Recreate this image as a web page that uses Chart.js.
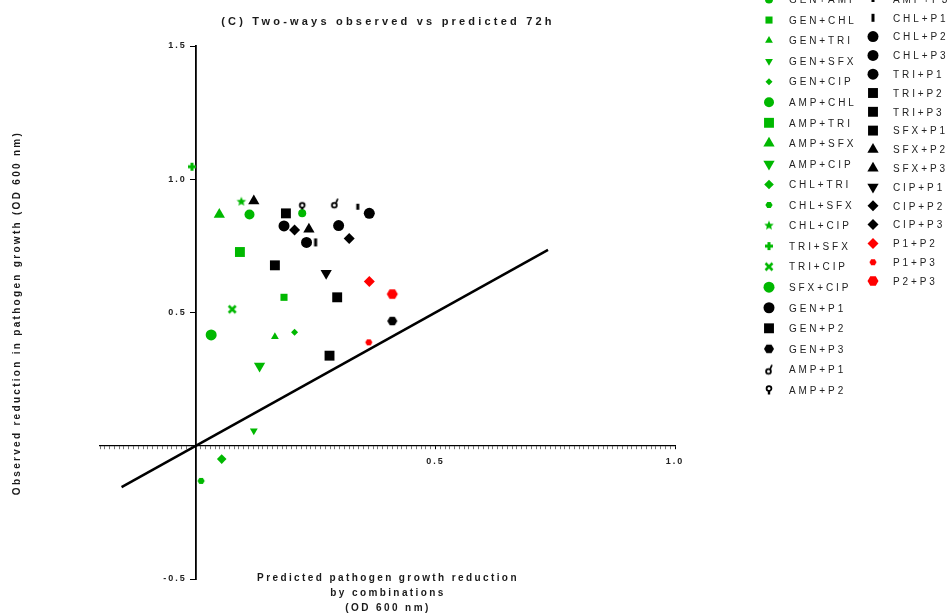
<!DOCTYPE html>
<html>
<head>
<meta charset="utf-8">
<script src="https://cdn.jsdelivr.net/npm/chart.js@4.4.1/dist/chart.umd.min.js"></script>
<style>
body { margin: 0; background: #fff; }
#wrap { width: 952px; height: 615px; position: relative; }
</style>
</head>
<body>
<div id="wrap"><canvas id="chart"></canvas></div>
<script>
// axis ticks
const xTickLabels = [0.5, 1.0];
const yTickLabels = [-0.5, 0.5, 1.0, 1.5];

// combinations (legend order)
const combos = [
  "GEN+AMP", "GEN+CHL", "GEN+TRI", "GEN+SFX", "GEN+CIP",
  "AMP+CHL", "AMP+TRI", "AMP+SFX", "AMP+CIP", "CHL+TRI",
  "CHL+SFX", "CHL+CIP", "TRI+SFX", "TRI+CIP", "SFX+CIP",
  "GEN+P1", "GEN+P2", "GEN+P3", "AMP+P1", "AMP+P2",
  "AMP+P3", "CHL+P1", "CHL+P2", "CHL+P3", "TRI+P1",
  "TRI+P2", "TRI+P3", "SFX+P1", "SFX+P2", "SFX+P3",
  "CIP+P1", "CIP+P2", "CIP+P3", "P1+P2", "P1+P3", "P2+P3"
];

// predicted reduction (x)
const predicted = [
  0.222, 0.184, 0.165, 0.121, 0.206,
  0.112, 0.092, 0.049, 0.133, 0.054,
  0.011, 0.095, -0.008, 0.076, 0.032,
  0.184, 0.279, 0.410, 0.290, 0.222,
  0.338, 0.250, 0.231, 0.298, 0.362,
  0.188, 0.165, 0.295, 0.121, 0.236,
  0.272, 0.206, 0.320, 0.362, 0.361, 0.410
];

// observed reduction (y)
const observed = [
  0.872, 0.557, 0.409, 0.056, 0.426,
  0.868, 0.727, 0.868, 0.299, -0.050,
  -0.132, 0.916, 1.047, 0.512, 0.416,
  0.825, 0.338, 0.468, 0.910, 0.897,
  0.897, 0.763, 0.763, 0.826, 0.872,
  0.872, 0.677, 0.557, 0.918, 0.812,
  0.647, 0.810, 0.778, 0.616, 0.388, 0.569
];

// additivity line y = x
const refLineX = [-0.155, 0.735];
const refLineY = [-0.155, 0.735];

const GREEN = "#00b800", BLACK = "#000000", RED = "#ff0000";

// marker look per combo: [colour, shape, size]
const looks = [
  [GREEN, "circle", 4], [GREEN, "rect", 5], [GREEN, "triangle", 4.5], [GREEN, "down", 4.5], [GREEN, "diamond", 3.5],
  [GREEN, "circle", 5], [GREEN, "rect", 7], [GREEN, "triangle", 6.5], [GREEN, "down", 6.5], [GREEN, "diamond", 4.8],
  [GREEN, "hex", 3.6], [GREEN, "star", 5], [GREEN, "plus", 4], [GREEN, "x", 4], [GREEN, "circle", 5.5],
  [BLACK, "circle", 5.5], [BLACK, "rect", 7], [BLACK, "hex", 5], [BLACK, "amp1", 5], [BLACK, "amp2", 5],
  [BLACK, "bar", 3], [BLACK, "bar", 4], [BLACK, "circle", 5.5], [BLACK, "circle", 5.5], [BLACK, "circle", 5.5],
  [BLACK, "rect", 7], [BLACK, "rect", 7], [BLACK, "rect", 7], [BLACK, "triangle", 6.5], [BLACK, "triangle", 6.5],
  [BLACK, "down", 6.5], [BLACK, "diamond", 5.5], [BLACK, "diamond", 5.5], [RED, "diamond", 5.5], [RED, "hex", 3.6], [RED, "hex", 5.5]
];

// small canvases for the shapes chart.js does not have
function makeMarker(shape, color, r) {
  const c = document.createElement("canvas");
  c.width = 16; c.height = 16;
  const g = c.getContext("2d");
  g.translate(8, 8);
  g.fillStyle = color; g.strokeStyle = color;
  if (shape === "hex") {
    g.beginPath();
    for (let k = 0; k < 6; k++) {
      const a = Math.PI / 3 * k;
      g.lineTo(Math.cos(a) * r, Math.sin(a) * r);
    }
    g.closePath(); g.fill();
  } else if (shape === "star") {
    g.beginPath();
    for (let k = 0; k < 10; k++) {
      const a = -Math.PI / 2 + Math.PI / 5 * k;
      const rr = k % 2 ? r * 0.45 : r;
      g.lineTo(Math.cos(a) * rr, Math.sin(a) * rr);
    }
    g.closePath(); g.fill();
  } else if (shape === "plus") {
    g.fillRect(-r, -1.5, 2 * r, 3);
    g.fillRect(-1.5, -r, 3, 2 * r);
  } else if (shape === "x") {
    g.lineWidth = 2.6;
    g.beginPath();
    g.moveTo(-r + 0.5, -r + 0.5); g.lineTo(r - 0.5, r - 0.5);
    g.moveTo(r - 0.5, -r + 0.5); g.lineTo(-r + 0.5, r - 0.5);
    g.stroke();
  } else if (shape === "bar") {
    g.fillRect(-1.5, -r, 3, 2 * r);
  } else if (shape === "amp1") {
    g.lineWidth = 1.8;
    g.beginPath(); g.arc(-0.5, 2, 2.4, 0, Math.PI * 2); g.stroke();
    g.beginPath(); g.moveTo(1, 0); g.lineTo(3, -4.5); g.stroke();
  } else if (shape === "amp2") {
    g.lineWidth = 1.8;
    g.beginPath(); g.arc(0, -1.5, 2.4, 0, Math.PI * 2); g.stroke();
    g.fillRect(-1.2, 1, 2.4, 3.5);
  }
  return c;
}

function styleFor(look) {
  const [color, shape, r] = look;
  if (shape === "circle") return { pointStyle: "circle", radius: r, rotation: 0 };
  if (shape === "rect") return { pointStyle: "rect", radius: r, rotation: 0 };
  if (shape === "triangle") return { pointStyle: "triangle", radius: r, rotation: 0 };
  if (shape === "down") return { pointStyle: "triangle", radius: r, rotation: 180 };
  if (shape === "diamond") return { pointStyle: "rectRot", radius: r, rotation: 0 };
  return { pointStyle: makeMarker(shape, color, r), radius: r, rotation: 0 };
}

const datasets = combos.map((name, i) => {
  const s = styleFor(looks[i]);
  return {
    label: name,
    data: [{ x: predicted[i], y: observed[i] }],
    pointStyle: s.pointStyle,
    pointRadius: s.radius,
    pointRotation: s.rotation,
    backgroundColor: looks[i][0],
    borderColor: looks[i][0],
    borderWidth: 0
  };
});

datasets.unshift({
  label: "y = x",
  type: "line",
  data: refLineX.map((x, i) => ({ x: x, y: refLineY[i] })),
  borderColor: "#000",
  borderWidth: 2.5,
  pointRadius: 0,
  showLine: true
});

// title, axis titles and the two-column legend
const textPlugin = {
  id: "texts",
  beforeDraw(chart) {
    chart.ctx.letterSpacing = "2px";
  },
  afterDraw(chart) {
    const ctx = chart.ctx;
    ctx.save();
    ctx.fillStyle = "#1a1a1a";
    ctx.textBaseline = "middle";

    ctx.textAlign = "center";
    ctx.font = 'bold 11px "Liberation Sans", Arial, sans-serif';
    ctx.letterSpacing = "3.2px";
    ctx.fillText("(C) Two-ways observed vs predicted 72h", 388, 22);

    ctx.font = 'bold 10px "Liberation Sans", Arial, sans-serif';
    ctx.letterSpacing = "2.4px";
    ctx.fillText("Predicted pathogen growth reduction", 388, 578);
    ctx.fillText("by combinations", 388, 593);
    ctx.fillText("(OD 600 nm)", 388, 608);

    ctx.save();
    ctx.translate(17, 313);
    ctx.rotate(-Math.PI / 2);
    ctx.letterSpacing = "2.3px";
    ctx.fillText("Observed reduction in pathogen growth (OD 600 nm)", 0, 0);
    ctx.restore();

    // legend
    ctx.textAlign = "left";
    ctx.font = '10px "Liberation Sans", Arial, sans-serif';
    ctx.letterSpacing = "2.9px";
    combos.forEach((name, i) => {
      const col2 = i >= 20;
      const j = col2 ? i - 20 : i;
      const mx = col2 ? 873 : 769;
      const my = col2 ? -1 + 18.8 * j : -0.5 + 20.55 * j;
      const s = styleFor(looks[i]);
      ctx.fillStyle = looks[i][0];
      ctx.strokeStyle = looks[i][0];
      Chart.helpers.drawPoint(ctx, { pointStyle: s.pointStyle, radius: s.radius, rotation: s.rotation, borderWidth: 0 }, mx, my);
      ctx.fillStyle = "#222";
      ctx.fillText(name, mx + 20, my + 1);
    });
    ctx.restore();
  }
};

const tickFont = { family: '"Liberation Sans", Arial, sans-serif', size: 9, weight: "bold" };

new Chart(document.getElementById("chart"), {
  type: "scatter",
  data: { datasets: datasets },
  plugins: [textPlugin],
  options: {
    responsive: true,
    maintainAspectRatio: false,
    animation: false,
    events: [],
    layout: { padding: { left: 100, right: 277, top: 46, bottom: 36 } },
    plugins: { legend: { display: false }, title: { display: false }, tooltip: { enabled: false } },
    scales: {
      x: {
        type: "linear",
        min: -0.2,
        max: 1.0,
        position: { y: 0 },
        afterFit: s => { s.height = 0; },
        afterBuildTicks: s => {
          const t = [];
          for (let k = -20; k <= 100; k++) t.push({ value: k / 100 });
          s.ticks = t;
        },
        border: { display: true, color: "#000", width: 1.2 },
        grid: { drawOnChartArea: false, drawTicks: true, tickLength: 3, color: "#000",
          tickColor: c => (xTickLabels.some(v => Math.abs(v - c.tick.value) < 1e-6) ? "#000" : "#777") },
        ticks: {
          autoSkip: false, maxRotation: 0, padding: 7, color: "#222", font: tickFont,
          callback: v => {
            const hit = xTickLabels.find(t => Math.abs(t - v) < 1e-6);
            return hit === undefined ? "" : hit.toFixed(1);
          }
        }
      },
      y: {
        type: "linear",
        min: -0.5,
        max: 1.5,
        position: { x: 0 },
        afterFit: s => { s.width = 0; },
        afterBuildTicks: s => { s.ticks = yTickLabels.map(v => ({ value: v })); },
        border: { display: true, color: "#000", width: 1.8 },
        grid: { drawOnChartArea: false, drawTicks: true, tickLength: 5, color: "#000" },
        // trailing spaces keep the right-aligned labels clear of the tick marks
        ticks: { padding: 4, color: "#222", font: tickFont, callback: v => v.toFixed(1) + "  " }
      }
    }
  }
});
</script>
</body>
</html>
